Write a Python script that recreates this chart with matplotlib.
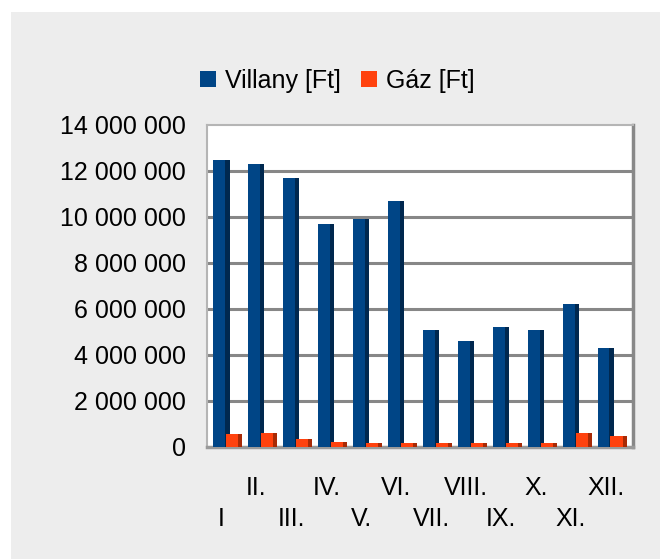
import matplotlib
matplotlib.use("Agg")
import matplotlib.pyplot as plt
from matplotlib.patches import Rectangle, Patch
import numpy as np

plt.rcParams['font.family'] = ['Liberation Sans', 'DejaVu Sans']

months = ["I", "II.", "III.", "IV.", "V.", "VI.", "VII.", "VIII.", "IX.", "X.", "XI.", "XII."]
villany = [12.5e6, 12.3e6, 11.7e6, 9.7e6, 9.9e6, 10.7e6, 5.1e6, 4.6e6, 5.2e6, 5.1e6, 6.2e6, 4.3e6]
gaz = [0.55e6, 0.6e6, 0.35e6, 0.2e6, 0.18e6, 0.18e6, 0.18e6, 0.17e6, 0.18e6, 0.16e6, 0.6e6, 0.5e6]
yticks = [0, 2e6, 4e6, 6e6, 8e6, 10e6, 12e6, 14e6]

W, H = 668, 559
fig = plt.figure(figsize=(W / 100, H / 100), dpi=100)
fig.patch.set_facecolor("white")
fig.patches.append(Rectangle((11 / W, 0), (660 - 11) / W, 1 - 12 / H,
                             transform=fig.transFigure, facecolor="#ededed",
                             edgecolor="none", zorder=-10))

L, R, T, B = 207, 633, 125, 447
ax = fig.add_axes([L / W, 1 - B / H, (R - L) / W, (B - T) / H])
ax.set_facecolor("white")

x = np.arange(len(months))
bw = 0.46
blue, blue_dark = "#004586", "#00284f"
orange, orange_dark = "#ff420e", "#a82a06"

ax.bar(x, villany, width=bw, color=blue, zorder=3)
ax.bar(x + bw / 2, villany, width=-bw * 0.28, align="edge", color=blue_dark, zorder=3)
go = 0.36
ax.bar(x + go, gaz, width=bw, color=orange, zorder=4)
ax.bar(x + go + bw / 2, gaz, width=-bw * 0.25, align="edge", color=orange_dark, zorder=4)

ax.set_xlim(-0.415, 11.774)
ax.set_ylim(0, 14e6)
ax.set_yticks(yticks)
ax.set_yticklabels([f"{int(v):,}".replace(",", " ") for v in yticks], fontsize=18)

# staggered month labels: odd months on the lower row, even months on the upper row
ax.set_xticks(x[0::2])
ax.set_xticklabels(months[0::2], fontsize=18)
ax.set_xticks(x[1::2], minor=True)
ax.set_xticklabels(months[1::2], minor=True, fontsize=18)
ax.tick_params(axis="x", which="major", length=0, pad=43)
ax.tick_params(axis="x", which="minor", length=0, pad=21)
ax.tick_params(axis="y", length=0, pad=15)

for v in yticks[1:-1]:
    ax.axhline(v, color="#878787", lw=2.2, zorder=1)

for s in ["left", "top"]:
    ax.spines[s].set_color("#b5b5b5")
    ax.spines[s].set_linewidth(1.5)
ax.spines["bottom"].set_color("#9a9a9a")
ax.spines["bottom"].set_linewidth(2.5)
ax.spines["right"].set_color("#888888")
ax.spines["right"].set_linewidth(2.5)

handles = [Patch(facecolor=blue, label="Villany [Ft]"),
           Patch(facecolor=orange, label="Gáz [Ft]")]
fig.legend(handles=handles, loc="center", bbox_to_anchor=(337 / W, 1 - 81 / H),
           ncol=2, frameon=False, fontsize=18, handlelength=0.64, handleheight=0.64,
           handletextpad=0.36, columnspacing=0.8)

fig.savefig("out.png", dpi=100)
